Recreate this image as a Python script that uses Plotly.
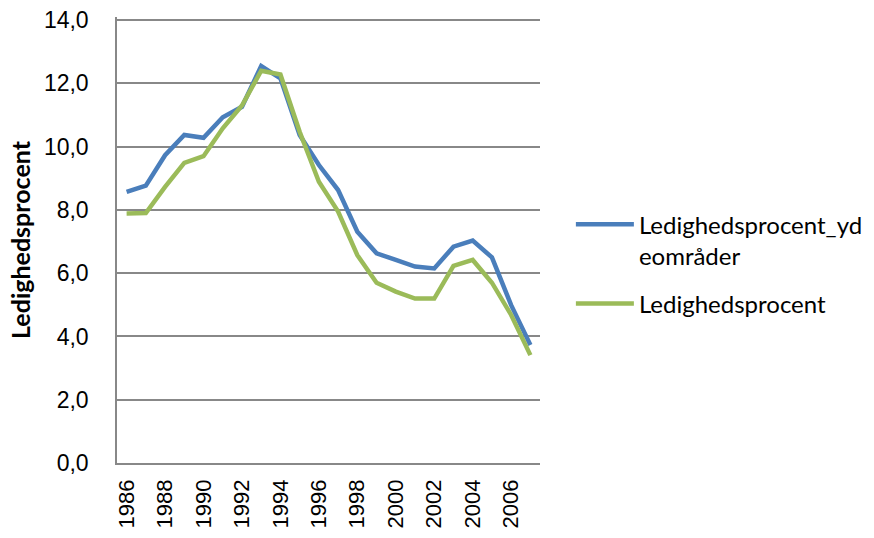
import plotly.graph_objects as go

years = list(range(1986, 2008))
yderomraader = [8.57, 8.77, 9.73, 10.37, 10.28, 10.93, 11.26, 12.55, 12.16, 10.37,
                9.42, 8.63, 7.31, 6.63, 6.42, 6.21, 6.15, 6.84, 7.03, 6.50, 4.99, 3.73]
ledighed = [7.89, 7.90, 8.73, 9.49, 9.70, 10.58, 11.30, 12.40, 12.28, 10.47,
            8.89, 7.95, 6.57, 5.70, 5.42, 5.20, 5.20, 6.23, 6.42, 5.70, 4.68, 3.41]
tick_years = list(range(1986, 2007, 2))
y_ticks = [0, 2, 4, 6, 8, 10, 12, 14]

fig = go.Figure()
fig.add_trace(go.Scatter(x=years, y=yderomraader, mode="lines",
                         name="Ledighedsprocent_yd<br>eområder", legendgroup="a",
                         line=dict(color="#4A7EBB", width=4.5)))
fig.add_trace(go.Scatter(x=years, y=ledighed, mode="lines",
                         name="Ledighedsprocent", legendgroup="b",
                         line=dict(color="#9BBB59", width=4.5)))

fig.update_layout(
    width=874, height=538,
    margin=dict(l=117, r=334, t=17, b=75, autoexpand=False),
    paper_bgcolor="white", plot_bgcolor="white",
    separators=",.",
    font=dict(family="Liberation Sans, Arial, sans-serif", size=22, color="black"),
    legend=dict(x=1.073, y=0.585, xanchor="left", yanchor="top", valign="top",
                font=dict(family="Lato, Open Sans, sans-serif", size=24),
                itemwidth=58, tracegroupgap=14, bgcolor="rgba(0,0,0,0)"),
    showlegend=True,
)
fig.update_xaxes(range=[1985.5, 2007.5], tickmode="array", tickvals=tick_years,
                 ticktext=[str(y) for y in tick_years], tickangle=-90,
                 showgrid=False, zeroline=False, showline=True, linecolor="#888888",
                 linewidth=1.5, ticks="", tickfont=dict(size=22), ticklabelstandoff=6)
fig.update_yaxes(range=[0, 14.1], tickmode="array", tickvals=y_ticks, tickformat=".1f",
                 showgrid=True, gridcolor="#888888", gridwidth=1.5, zeroline=False,
                 showline=True, linecolor="#888888", linewidth=1.5, ticks="",
                 tickfont=dict(size=23), ticklabelstandoff=22, ticklabeloverflow="allow",
                 title=dict(text="<b>Ledighedsprocent</b>", font=dict(family="Lato, sans-serif", size=25),
                            standoff=6))

fig.write_html("out.html", config={"displayModeBar": False},
               post_script="document.body.style.margin='0';")
